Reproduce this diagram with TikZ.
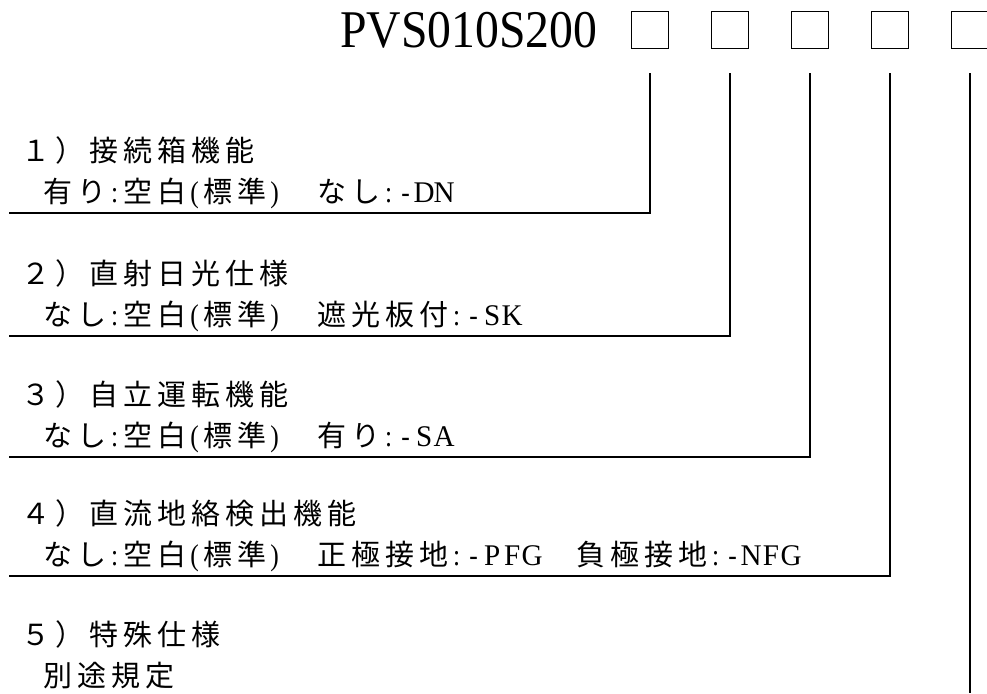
\documentclass[tikz,border=0pt]{standalone}
\usepackage{fontspec}
\usepackage{graphicx}
\setmainfont{Liberation Serif}
\newfontfamily\jp{Noto Sans CJK JP}[LetterSpace=17.2]
% half-width Latin characters: letters a little wider than punctuation
\newcommand\hc[3]{\makebox[#1]{\fontsize{30}{30}\selectfont\scalebox{#2}[1]{#3}}}
\def\hsloop#1{\ifx#1\relax\else\ifcat#1a\hc{20pt}{0.97}{#1}\else\hc{17pt}{0.85}{#1}\fi\expandafter\hsloop\fi}
\newcommand\hs[1]{\hsloop#1\relax}
\tikzset{
  codebox/.style={draw, line width=1.3pt, minimum width=37pt, minimum height=37pt, inner sep=0pt},
  conn/.style={line width=1.4pt},
  head/.style={anchor=base west, inner sep=0pt, font=\fontsize{29}{30}\selectfont\jp},
  desc/.style={anchor=base west, inner sep=0pt, font=\fontsize{29}{30}\selectfont},
}
\begin{document}
\begin{tikzpicture}[x=1pt, y=-1pt]
\useasboundingbox (0,0) rectangle (987,693);
% title
\node[anchor=base west, inner sep=0pt, font=\fontsize{53}{53}\selectfont] (title) at (340,48) {\scalebox{0.9}[1]{PVS010S200}};
\foreach \i/\x in {1/650,2/730,3/810,4/890,5/970}{
  \node[codebox] (b\i) at (\x,30) {};
  \coordinate (t\i) at (\x,73);
}
% ends of connectors
\coordinate (e1) at (9,213);
\coordinate (e2) at (9,336);
\coordinate (e3) at (9,457);
\coordinate (e4) at (9,576);
\coordinate (e5) at (970,693);
\draw[conn] (t1) |- (e1);
\draw[conn] (t2) |- (e2);
\draw[conn] (t3) |- (e3);
\draw[conn] (t4) |- (e4);
\draw[conn] (t5) -- (e5);
% texts
\node[head] (h1) at (21,161) {１）接続箱機能};
\node[desc] (d1) at (43,202.5) {{\jp 有り}\hs{:}{\jp 空白}\hs{(}{\jp 標準}\hs{)}{\jp 　なし}\hs{:-DN}};
\node[head] (h2) at (21,284) {２）直射日光仕様};
\node[desc] (d2) at (43,325.5) {{\jp なし}\hs{:}{\jp 空白}\hs{(}{\jp 標準}\hs{)}{\jp 　遮光板付}\hs{:-SK}};
\node[head] (h3) at (21,405) {３）自立運転機能};
\node[desc] (d3) at (43,446.5) {{\jp なし}\hs{:}{\jp 空白}\hs{(}{\jp 標準}\hs{)}{\jp 　有り}\hs{:-SA}};
\node[head] (h4) at (21,524) {４）直流地絡検出機能};
\node[desc] (d4) at (43,565.5) {{\jp なし}\hs{:}{\jp 空白}\hs{(}{\jp 標準}\hs{)}{\jp 　正極接地}\hs{:-PFG}{\jp 　負極接地}\hs{:-NFG}};
\node[head] (h5) at (21,645) {５）特殊仕様};
\node[desc] (d5) at (43,686.5) {{\jp 別途規定}};
\end{tikzpicture}
\end{document}
